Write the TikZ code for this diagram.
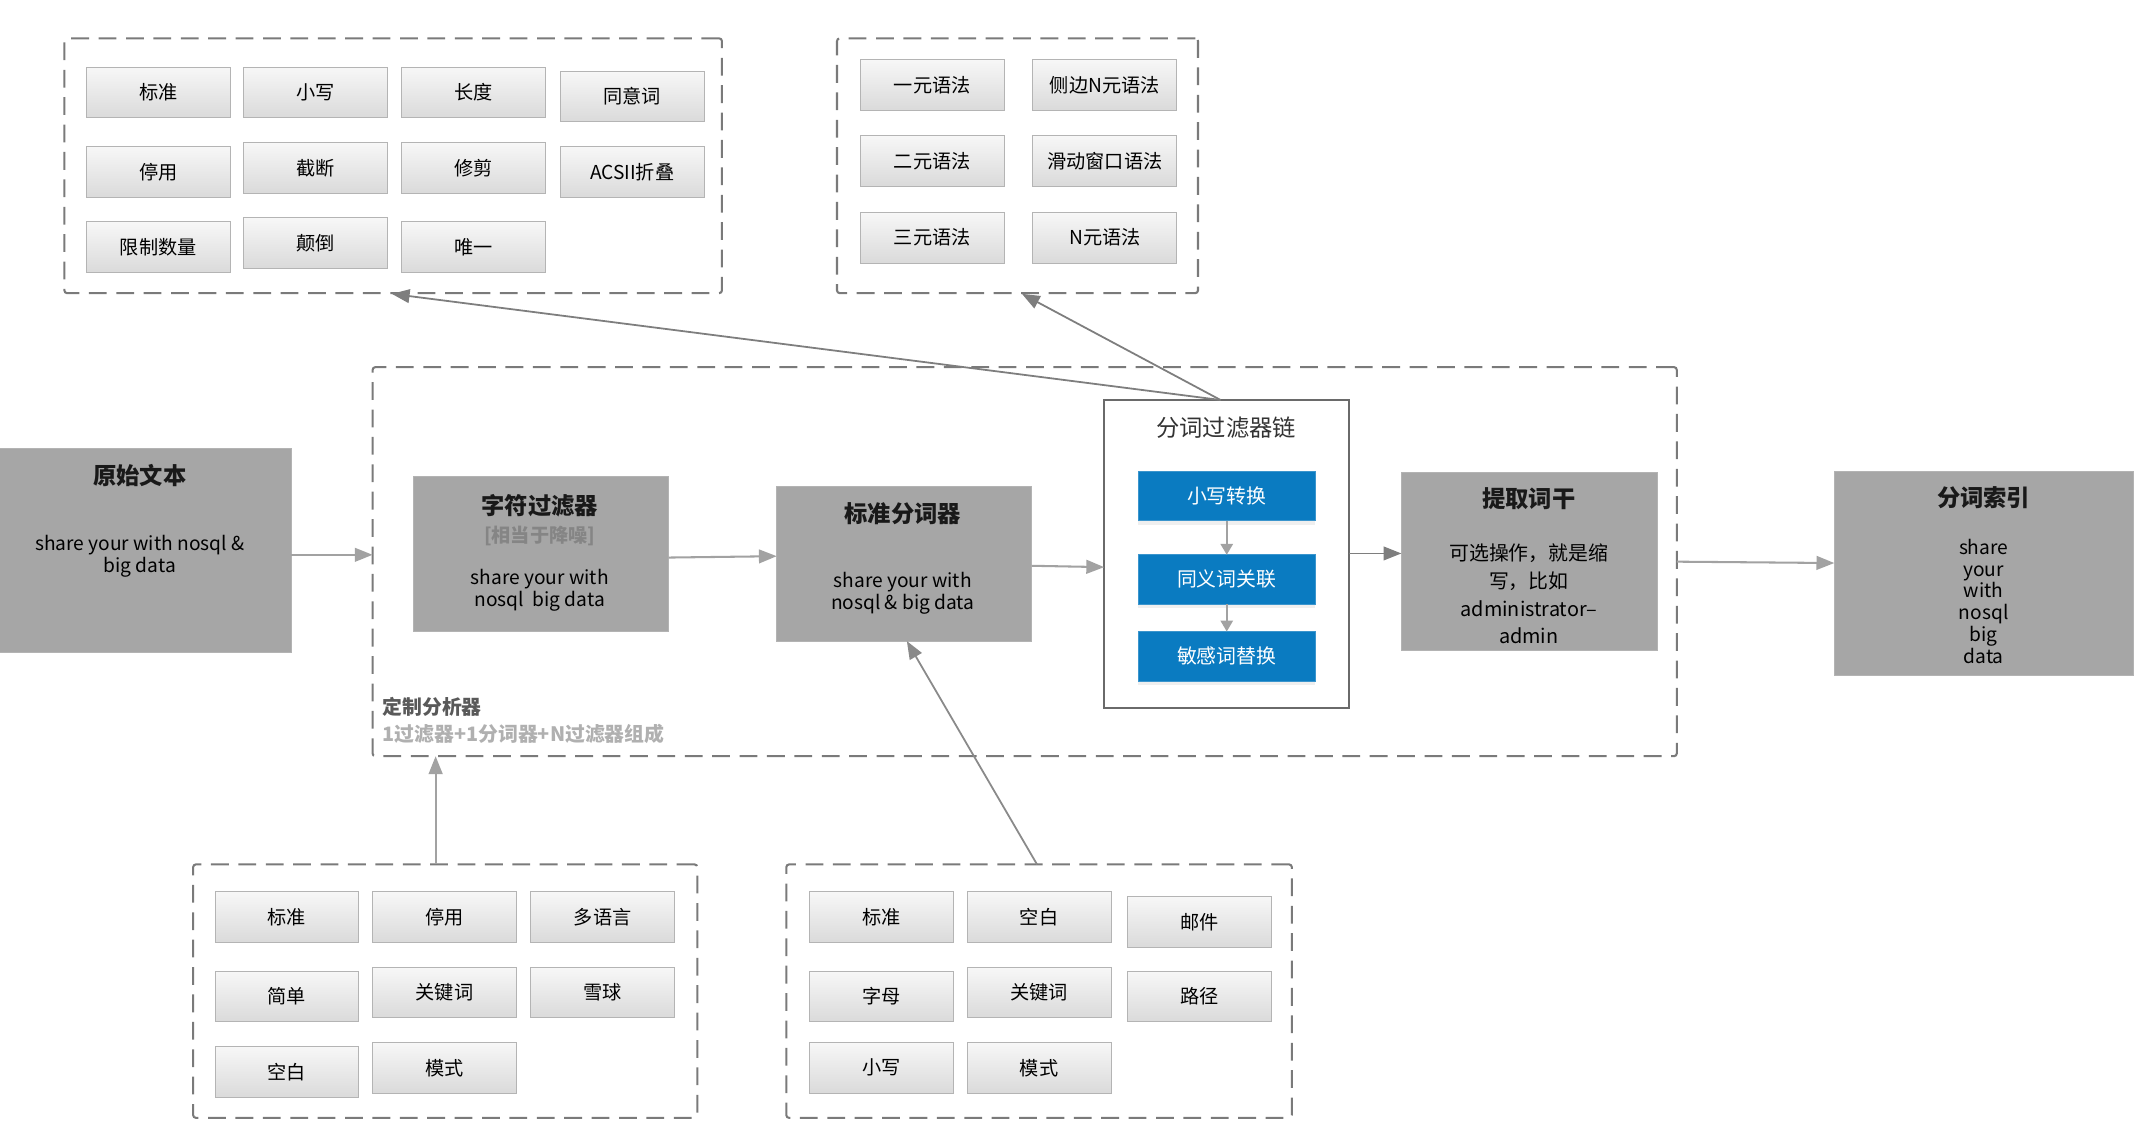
\documentclass[tikz,border=0pt]{standalone}
\usepackage{fontspec}
\newfontfamily\cjk{Noto Sans CJK SC}
\usetikzlibrary{arrows.meta,shadows}
\definecolor{dashc}{HTML}{7A7A7A}
\definecolor{boxgray}{HTML}{A6A6A6}
\definecolor{btnborder}{HTML}{B4B4B4}
\definecolor{btntop}{HTML}{F7F7F7}
\definecolor{btnbot}{HTML}{DADADA}
\definecolor{blueb}{HTML}{0A7BC1}
\definecolor{flowc}{HTML}{A2A2A2}
\definecolor{darkc}{HTML}{7E7E7E}
\definecolor{chainc}{HTML}{6A6A6A}
\definecolor{subgray}{HTML}{858585}
\definecolor{lightgray2}{HTML}{B0B0B0}
\begin{document}
\begin{tikzpicture}[x=1pt,y=-1pt,
  dbox/.style={draw=dashc, line width=1.5pt, dash pattern=on 13pt off 7pt, rounded corners=2pt, inner sep=0pt, outer sep=0pt},
  btn/.style={draw=btnborder, line width=0.7pt, top color=btntop, bottom color=btnbot, minimum width=105pt, minimum height=37pt, inner sep=0pt, outer sep=0pt, font=\cjk\fontsize{14}{16}\selectfont, text=black},
  gbox/.style={fill=boxgray, draw=boxgray!85!white, line width=0.6pt, inner sep=0pt, outer sep=0pt},
  bluebox/.style={fill=blueb, draw=blueb!80!white, line width=0.5pt, minimum width=129pt, minimum height=36pt, inner sep=0pt, outer sep=0pt, text=white, font=\cjk\fontsize{14.5}{16}\selectfont, drop shadow={opacity=0.12, shadow xshift=0pt, shadow yshift=-3pt}},
  ttl/.style={font=\cjk\bfseries\fontsize{17}{20}\selectfont, text=black!90, inner sep=0pt},
  body/.style={font=\cjk\fontsize{14}{16}\selectfont, text=black, inner sep=0pt, align=center},
  flow/.style={draw=flowc, line width=1.5pt, -{Triangle[length=13pt,width=10pt]}},
  dflow/.style={draw=darkc, line width=1.3pt, -{Triangle[length=13pt,width=10pt]}},
  small/.style={draw=flowc, line width=1.4pt, -{Triangle[length=8pt,width=9pt]}}
]
\useasboundingbox (0,0) rectangle (1568,828);

% ---------------- dashed group boxes ----------------
\node[dbox, minimum width=480pt, minimum height=186pt] (tl) at (287,121) {};
\node[dbox, minimum width=263.5pt, minimum height=186pt] (tr) at (742.75,121) {};
\node[dbox, minimum width=368pt, minimum height=185pt] (bl) at (325,723.5) {};
\node[dbox, minimum width=369pt, minimum height=185pt] (br) at (758.5,723.5) {};
\node[dbox, minimum width=952pt, minimum height=284pt] (outer) at (748,410) {};

% ---------------- top-left buttons ----------------
\node[btn] (tl1) at (115.5,67.5) {标准};
\node[btn] (tl2) at (230.5,67.5) {小写};
\node[btn] (tl3) at (345.5,67.5) {长度};
\node[btn] (tl4) at (461.5,70.5) {同意词};
\node[btn] (tl5) at (115.5,125.5) {停用};
\node[btn] (tl6) at (230.5,122.5) {截断};
\node[btn] (tl7) at (345.5,122.5) {修剪};
\node[btn] (tl8) at (461.5,125.5) {ACSII折叠};
\node[btn] (tl9) at (115.5,180.5) {限制数量};
\node[btn] (tl10) at (230.5,177.5) {颠倒};
\node[btn] (tl11) at (345.5,180.5) {唯一};

% ---------------- top-right buttons ----------------
\node[btn] (tr1) at (680.5,62) {一元语法};
\node[btn] (tr2) at (806.5,62) {侧边N元语法};
\node[btn] (tr3) at (680.5,117.5) {二元语法};
\node[btn] (tr4) at (806.5,117.5) {滑动窗口语法};
\node[btn] (tr5) at (680.5,173.5) {三元语法};
\node[btn] (tr6) at (806.5,173.5) {N元语法};

% ---------------- bottom-left buttons ----------------
\node[btn] (bl1) at (209.5,669.5) {标准};
\node[btn] (bl2) at (324.5,669.5) {停用};
\node[btn] (bl3) at (440,669.5) {多语言};
\node[btn] (bl4) at (209.5,727.5) {简单};
\node[btn] (bl5) at (324.5,724.5) {关键词};
\node[btn] (bl6) at (440,724.5) {雪球};
\node[btn] (bl7) at (209.5,782.5) {空白};
\node[btn] (bl8) at (324.5,779.5) {模式};

% ---------------- bottom-right buttons ----------------
\node[btn] (br1) at (643.5,669.5) {标准};
\node[btn] (br2) at (758.5,669.5) {空白};
\node[btn] (br3) at (875.5,673) {邮件};
\node[btn] (br4) at (643.5,727.5) {字母};
\node[btn] (br5) at (758.5,724.5) {关键词};
\node[btn] (br6) at (875.5,727.5) {路径};
\node[btn] (br7) at (643.5,779.5) {小写};
\node[btn] (br8) at (758.5,779.5) {模式};

% ---------------- main boxes ----------------
\node[gbox, minimum width=213pt, minimum height=149pt] (raw) at (106,401.5) {};
\node[ttl] (rawt) at (102,347) {原始文本};
\node[body] (rawb) at (102,406) {share your with nosql \&\\big data};

\node[gbox, minimum width=186pt, minimum height=113pt] (cf) at (395,404.5) {};
\node[ttl] (cft) at (394,369) {字符过滤器};
\node[font=\cjk\bfseries\fontsize{14}{16}\selectfont, text=subgray, inner sep=0pt] (cfs) at (394,391) {[相当于降噪]};
\node[body] (cfb) at (394,431) {share your with\\nosql\ \ big data};

\node[gbox, minimum width=186pt, minimum height=113pt] (std) at (660,411.5) {};
\node[ttl] (stdt) at (659,375) {标准分词器};
\node[body] (stdb) at (659,433) {share your with\\nosql \& big data};

\node[draw=chainc, line width=1.5pt, fill=white, minimum width=179pt, minimum height=225pt, inner sep=0pt, outer sep=0pt] (chain) at (895.5,404.5) {};
\node[font=\cjk\fontsize{17}{20}\selectfont, text=black!80, inner sep=0pt] (chaint) at (895,312) {分词过滤器链};
\node[bluebox] (b1) at (895.5,362) {小写转换};
\node[bluebox] (b2) at (895.5,423) {同义词关联};
\node[bluebox] (b3) at (895.5,479) {敏感词替换};

\node[gbox, minimum width=187pt, minimum height=130pt] (stem) at (1116.5,410) {};
\node[ttl] (stemt) at (1116,364) {提取词干};
\node[body, font=\cjk\fontsize{14.5}{20.3}\selectfont] (stemb) at (1116,433.5) {可选操作，就是缩\\写，比如\\administrator–\\admin};

\node[gbox, minimum width=218pt, minimum height=149pt] (idx) at (1448,418.5) {};
\node[ttl] (idxt) at (1448,363) {分词索引};
\node[body] (idxb) at (1448,439) {share\\your\\with\\nosql\\big\\data};

% ---------------- outer labels ----------------
\node[anchor=west, font=\cjk\bfseries\fontsize{14.5}{16}\selectfont, text=black!65, inner sep=0pt] (lab1) at (279,516) {定制分析器};
\node[anchor=west, font=\cjk\bfseries\fontsize{14.5}{16}\selectfont, text=lightgray2, inner sep=0pt] (lab2) at (279,536) {1过滤器+1分词器+N过滤器组成};

% ---------------- connectors ----------------
\draw[flow] (raw.east |- 0,405) -- (outer.west |- 0,405);
\draw[flow] (cf.east |- 0,407) -- (std.west |- 0,406);
\draw[flow] (std.east |- 0,413) -- (chain.west |- 0,414);
\draw[dflow] (chain.east |- 0,404) -- (stem.west |- 0,404);
\draw[flow] (outer.east |- 0,410) -- (idx.west |- 0,411);

\coordinate (ctop) at (891,292);
\draw[dflow] (ctop) -- (286,214.5);
\draw[dflow] (ctop) -- (746,214.5);

\draw[flow] (bl.north -| 318,0) -- (outer.south -| 318,0);
\draw[dflow, draw=flowc!85!black] (br.north -| 757,0) -- (std.south -| 662,0);

\draw[small] (b1.south) -- (b2.north);
\draw[small] (b2.south) -- (b3.north);
\end{tikzpicture}
\end{document}
